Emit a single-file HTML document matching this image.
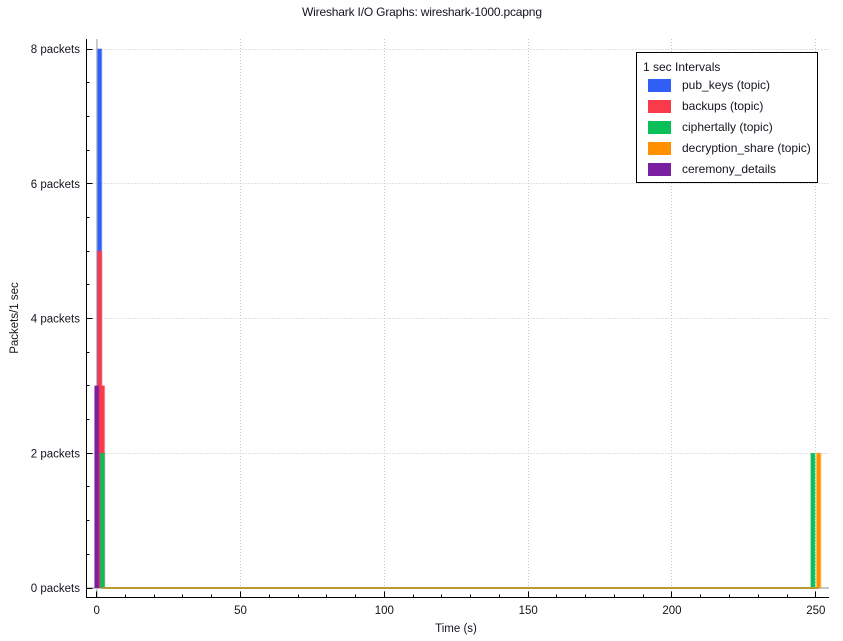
<!DOCTYPE html>
<html>
<head>
<meta charset="utf-8">
<title>Wireshark I/O Graphs: wireshark-1000.pcapng</title>
<style>
html,body{margin:0;padding:0;background:#fff;width:843px;height:641px;overflow:hidden}
svg{display:block}
text{font-family:"Liberation Sans",sans-serif;font-size:12px;fill:#14141e}
.small{font-size:11.5px}
</style>
</head>
<body>
<svg id="chart" width="843" height="641" viewBox="0 0 843 641" xmlns="http://www.w3.org/2000/svg">
<text x="422" y="16" text-anchor="middle" textLength="240">Wireshark I/O Graphs: wireshark-1000.pcapng</text>
<g id="grid"></g>
<g id="marks"></g>
<g id="axes"></g>
<text class="small" x="456" y="632" text-anchor="middle">Time (s)</text>
<text class="small" transform="translate(18,318) rotate(-90)" text-anchor="middle">Packets/1 sec</text>
<g id="legend"></g>
</svg>
<script>
const xMajorTicks = [0, 50, 100, 150, 200, 250];
const xTickLabels = ['0', '50', '100', '150', '200', '250'];
const yMajorTicks = [0, 2, 4, 6, 8];
const yTickLabels = ['0 packets', '2 packets', '4 packets', '6 packets', '8 packets'];
const xMinorStep = 10;
const yMinorStep = 0.5;
const xDomain = [0, 250];
const yDomain = [0, 8];
const baselineRange = [2, 251];

const seriesNames = ['pub_keys (topic)', 'backups (topic)', 'ciphertally (topic)', 'decryption_share (topic)', 'ceremony_details'];
const seriesColors = ['#2f5ff5', '#f93a4a', '#08bf58', '#ff9000', '#7a1fa0'];
const pubKeysTimes = [1];
const pubKeysValues = [8];
const backupsTimes = [1, 2];
const backupsValues = [5, 3];
const ciphertallyTimes = [2, 249];
const ciphertallyValues = [2, 2];
const decryptionShareTimes = [251];
const decryptionShareValues = [2];
const ceremonyTimes = [0];
const ceremonyValues = [3];
const legendTitle = '1 sec Intervals';

const NS = 'http://www.w3.org/2000/svg';
function make(tag, parent, attrs) {
  const el = document.createElementNS(NS, tag);
  for (const k in attrs) el.setAttribute(k, attrs[k]);
  parent.appendChild(el);
  return el;
}
function xScale(v) { return 96.7 + (v - xDomain[0]) * (815.8 - 96.7) / (xDomain[1] - xDomain[0]); }
function yScale(v) { return 588 - (v - yDomain[0]) * (588 - 49) / (yDomain[1] - yDomain[0]); }

const plotLeft = 86.5, plotRight = 829, plotTop = 39, plotBottom = 597.5;
const grid = document.getElementById('grid');
const marks = document.getElementById('marks');
const axes = document.getElementById('axes');
const legend = document.getElementById('legend');

xMajorTicks.forEach(function (t) {
  const isZero = t === 0;
  const px = isZero ? xScale(t) + 0.2 : Math.floor(xScale(t)) + 0.5;
  const line = make('line', grid, {x1: px, x2: px, y1: plotTop, y2: plotBottom, stroke: isZero ? '#c8c8c8' : '#c4c4c4', 'stroke-width': isZero ? 1.8 : 1, 'stroke-dasharray': isZero ? 'none' : '1 2'});
  
  
});
yMajorTicks.forEach(function (t) {
  const isZero = t === 0;
  const py = isZero ? yScale(t) : Math.floor(yScale(t)) + 0.5;
  const line = make('line', grid, {x1: plotLeft, x2: plotRight, y1: py, y2: py, stroke: isZero ? '#c8c8c8' : '#c4c4c4', 'stroke-width': isZero ? 2 : 1, 'stroke-dasharray': isZero ? 'none' : '1 2'});
  
  
});

function drawBars(name, color, times, values) {
  times.forEach(function (t, i) {
    const cx = xScale(t), top = yScale(values[i]), bottom = yScale(0);
    const halo = make('rect', marks, {x: cx - 2.7, y: top - 0.5, width: 5.4, height: bottom - top + 0.5, fill: color, 'fill-opacity': 0.45});
    
    
    const bar = make('rect', marks, {x: cx - 1.9, y: top, width: 3.8, height: bottom - top, fill: color});
    
    
  });
}
drawBars('pub-keys', seriesColors[0], pubKeysTimes, pubKeysValues);
drawBars('backups', seriesColors[1], backupsTimes, backupsValues);
drawBars('ciphertally', seriesColors[2], ciphertallyTimes, ciphertallyValues);
drawBars('decryption-share', seriesColors[3], decryptionShareTimes, decryptionShareValues);
drawBars('ceremony-details', seriesColors[4], ceremonyTimes, ceremonyValues);

const baseline = make('line', marks, {x1: xScale(baselineRange[0]), x2: xScale(baselineRange[1]), y1: yScale(0), y2: yScale(0), stroke: '#b89a35', 'stroke-width': 2});



const leftAxis = make('line', axes, {x1: plotLeft, x2: plotLeft, y1: plotTop, y2: plotBottom + 0.5, stroke: '#000', 'stroke-width': 1});


const bottomAxis = make('line', axes, {x1: plotLeft - 0.5, x2: plotRight, y1: plotBottom, y2: plotBottom, stroke: '#000', 'stroke-width': 1});



for (let v = xDomain[0]; v <= xDomain[1]; v += xMinorStep) {
  const px = Math.floor(xScale(v)) + 0.5;
  const isMajor = xMajorTicks.indexOf(v) >= 0;
  const tick = make('line', axes, {x1: px, x2: px, y1: plotBottom, y2: plotBottom - (isMajor ? 6 : 3), stroke: '#000', 'stroke-width': 1});
  
  
}
for (let v = yDomain[0]; v <= yDomain[1]; v += yMinorStep) {
  const py = Math.floor(yScale(v)) + 0.5;
  const isMajor = yMajorTicks.indexOf(v) >= 0;
  const tick = make('line', axes, {x1: plotLeft, x2: plotLeft + (isMajor ? 6 : 3), y1: py, y2: py, stroke: '#000', 'stroke-width': 1});
  
  
}
xMajorTicks.forEach(function (t, i) {
  const label = make('text', axes, {x: xScale(t), y: 614, 'text-anchor': 'middle', 'class': 'small'});
  label.textContent = xTickLabels[i];
  
  
});
yMajorTicks.forEach(function (t, i) {
  const label = make('text', axes, {x: 80, y: yScale(t) + 4, 'text-anchor': 'end', 'class': 'small'});
  label.textContent = yTickLabels[i];
  
  
});

const legendBox = make('rect', legend, {x: 636.5, y: 52.5, width: 181, height: 130, fill: '#fff', stroke: '#000', 'stroke-width': 1});


const legendHeading = make('text', legend, {x: 643, y: 71});
legendHeading.textContent = legendTitle;


seriesNames.forEach(function (name, i) {
  const rowY = 85 + i * 21;
  const swatch = make('rect', legend, {x: 648, y: rowY - 6, width: 23, height: 13, fill: seriesColors[i]});
  
  
  const entry = make('text', legend, {x: 682, y: rowY + 4});
  entry.textContent = name;
  
  
});
</script>
</body>
</html>
